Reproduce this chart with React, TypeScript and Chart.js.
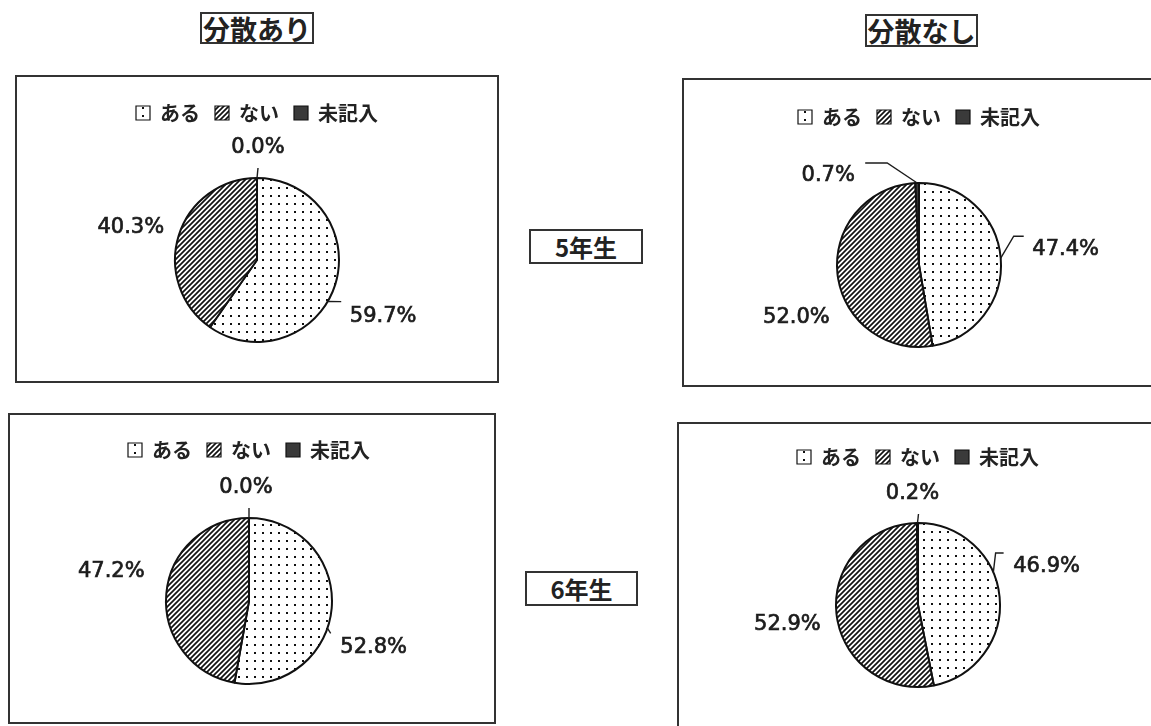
import React, { useEffect, useRef } from "react";
import { Chart, registerables } from "chart.js";

Chart.register(...registerables);

// ---- data ----
const CATEGORIES = ["ある", "ない", "未記入"];
const GRADE5_WITH = [59.7, 40.3, 0.0];
const GRADE5_WITHOUT = [47.4, 52.0, 0.7];
const GRADE6_WITH = [52.8, 47.2, 0.0];
const GRADE6_WITHOUT = [46.9, 52.9, 0.2];
const COLUMN_TITLES = ["分散あり", "分散なし"];
const ROW_TITLES = ["5年生", "6年生"];

// ---- layout / style ----
type LabelCfg = { dx: number; dy: number; t?: number; tail?: [number, number]; len?: number };
type Panel = {
  data: number[];
  box: { x: number; y: number; w: number; h: number };
  cx: number;
  cy: number;
  r: number;
  legendY: number;
  labels: LabelCfg[];
};

const PANELS: Panel[] = [
  {
    data: GRADE5_WITH,
    box: { x: 15, y: 75, w: 484, h: 308 },
    cx: 257, cy: 260, r: 82, legendY: 113,
    labels: [
      { dx: 48, dy: 32, t: 0.56, tail: [-42, -15], len: 0 },
      { dx: -48, dy: -8 },
      { dx: 1, dy: -30, tail: [0, 20], len: 0 },
    ],
  },
  {
    data: GRADE5_WITHOUT,
    box: { x: 682, y: 78, w: 480, h: 309 },
    cx: 919, cy: 265, r: 82, legendY: 117,
    labels: [
      { dx: 65, dy: -9, tail: [-42, -13], len: 10 },
      { dx: -41, dy: 44 },
      { dx: -89, dy: -7, tail: [37, -13], len: -22 },
    ],
  },
  {
    data: GRADE6_WITH,
    box: { x: 8, y: 413, w: 488, h: 311 },
    cx: 249, cy: 601, r: 83, legendY: 450,
    labels: [
      { dx: 42, dy: 39, t: 0.574, tail: [-43, -14], len: 0 },
      { dx: -55, dy: -22 },
      { dx: -3, dy: -30, tail: [3, 20], len: 0 },
    ],
  },
  {
    data: GRADE6_WITHOUT,
    box: { x: 677, y: 422, w: 480, h: 320 },
    cx: 918, cy: 605, r: 82, legendY: 457,
    labels: [
      { dx: 47, dy: -30, t: 0.395, tail: [-43, -14], len: 8 },
      { dx: -49, dy: 11 },
      { dx: -5, dy: -29, tail: [6, 20], len: 0 },
    ],
  },
];

const INK = "#1c1c1c";
const LEGEND_PAD = 15;
const LEGEND_FONT = 20;
const CANVAS_W = 380;
const LABEL_FONT = '21px "DejaVu Sans"';
const CJK = '"Noto Sans CJK JP", sans-serif';

function makeDots(): CanvasPattern {
  const c = document.createElement("canvas");
  c.width = 8;
  c.height = 8;
  const g = c.getContext("2d")!;
  g.fillStyle = "#fff";
  g.fillRect(0, 0, 8, 8);
  g.fillStyle = "#111";
  g.fillRect(3, 3, 2, 2);
  return g.createPattern(c, "repeat")!;
}

function makeHatch(): CanvasPattern {
  const s = 5;
  const c = document.createElement("canvas");
  c.width = s;
  c.height = s;
  const g = c.getContext("2d")!;
  g.fillStyle = "#fff";
  g.fillRect(0, 0, s, s);
  g.strokeStyle = "#111";
  g.lineWidth = 1.7;
  g.beginPath();
  g.moveTo(-1, s + 1);
  g.lineTo(s + 1, -1);
  g.moveTo(-1, 1);
  g.lineTo(1, -1);
  g.moveTo(s - 1, s + 1);
  g.lineTo(s + 1, s - 1);
  g.stroke();
  return g.createPattern(c, "repeat")!;
}

function makeLabelPlugin(cfg: LabelCfg[]) {
  return {
    id: "pctLabels",
    afterDatasetsDraw(chart: any) {
      const meta = chart.getDatasetMeta(0);
      const values = chart.data.datasets[0].data as number[];
      const ctx: CanvasRenderingContext2D = chart.ctx;
      ctx.save();
      ctx.font = LABEL_FONT;
      ctx.fillStyle = INK;
      ctx.strokeStyle = INK;
      ctx.textAlign = "center";
      ctx.textBaseline = "middle";
      meta.data.forEach((arc: any, i: number) => {
        const L = cfg[i];
        if (!L) return;
        const p = arc.getProps(["x", "y", "startAngle", "endAngle", "outerRadius"], true);
        const mid = (p.startAngle + p.endAngle) / 2;
        const ex = p.x + Math.cos(mid) * p.outerRadius;
        const ey = p.y + Math.sin(mid) * p.outerRadius;
        const tx = ex + L.dx;
        const ty = ey + L.dy;
        const txt = values[i].toFixed(1) + "%";
        ctx.fillText(txt, tx, ty);
        ctx.lineWidth = 0.7;
        ctx.strokeText(txt, tx, ty);
        if (L.tail) {
          const t = L.t ?? 0.5;
          const a = p.startAngle + (p.endAngle - p.startAngle) * t;
          const ax = p.x + Math.cos(a) * p.outerRadius;
          const ay = p.y + Math.sin(a) * p.outerRadius;
          const endX = tx + L.tail[0];
          const endY = ty + L.tail[1];
          const midX = endX - (L.len ?? 0);
          ctx.lineWidth = 1.4;
          ctx.beginPath();
          ctx.moveTo(ax, ay);
          ctx.lineTo(midX, endY);
          ctx.lineTo(endX, endY);
          ctx.stroke();
        }
      });
      ctx.restore();
    },
  };
}

function PiePanel({ panel }: { panel: Panel }) {
  const ref = useRef<HTMLCanvasElement>(null);
  const legendH = LEGEND_FONT + LEGEND_PAD + 10;
  const top = panel.legendY - (LEGEND_PAD + LEGEND_FONT / 2);
  const height = 2 * (panel.cy - top) - legendH;
  const left = panel.cx - CANVAS_W / 2;

  useEffect(() => {
    const canvas = ref.current!;
    const dots = makeDots();
    const hatch = makeHatch();
    const baseGen = (Chart as any).overrides.doughnut.plugins.legend.labels.generateLabels;
    const chart = new Chart(canvas, {
      type: "pie",
      data: {
        labels: CATEGORIES,
        datasets: [
          {
            data: panel.data,
            backgroundColor: [dots, hatch, "#3a3a3a"],
            borderColor: "#111",
            borderWidth: 2,
          },
        ],
      },
      options: {
        responsive: false,
        animation: false,
        radius: panel.r,
        layout: { padding: 0 },
        plugins: {
          legend: {
            display: true,
            position: "top",
            align: "center",
            labels: {
              font: { family: CJK, size: LEGEND_FONT, weight: "bold" },
              color: "#222",
              boxWidth: 14,
              boxHeight: 14,
              padding: LEGEND_PAD,
              generateLabels: (c: any) =>
                baseGen(c).map((l: any) => ({ ...l, lineWidth: 1.2, strokeStyle: "#111" })),
            },
          },
          tooltip: { enabled: false },
          title: { display: false },
        },
      } as any,
      plugins: [makeLabelPlugin(panel.labels)],
    });
    return () => chart.destroy();
  }, []);

  return (
    <canvas
      ref={ref}
      width={CANVAS_W}
      height={height}
      style={{ position: "absolute", left, top, width: CANVAS_W, height }}
    />
  );
}

function TagBox({ text, x, y, w, h, size }: { text: string; x: number; y: number; w: number; h: number; size: number }) {
  return (
    <div
      style={{
        position: "absolute",
        left: x,
        top: y,
        width: w,
        height: h,
        boxSizing: "border-box",
        border: "2px solid #333",
        display: "flex",
        alignItems: "center",
        justifyContent: "center",
        fontFamily: CJK,
        fontWeight: "bold",
        fontSize: size,
        color: "#222",
        lineHeight: 1,
        background: "#fff",
      }}
    >
      {text}
    </div>
  );
}

export default function App() {
  return (
    <div
      style={{
        position: "absolute",
        left: 0,
        top: 0,
        width: 1151,
        height: 726,
        background: "#fff",
        overflow: "hidden",
      }}
    >
      {PANELS.map((p, i) => (
        <div
          key={"b" + i}
          style={{
            position: "absolute",
            left: p.box.x,
            top: p.box.y,
            width: p.box.w,
            height: p.box.h,
            boxSizing: "border-box",
            border: "2px solid #333",
          }}
        />
      ))}
      <TagBox text={COLUMN_TITLES[0]} x={200} y={12} w={114} h={32} size={27} />
      <TagBox text={COLUMN_TITLES[1]} x={865} y={14} w={113} h={33} size={27} />
      <TagBox text={ROW_TITLES[0]} x={529} y={229} w={114} h={35} size={24} />
      <TagBox text={ROW_TITLES[1]} x={525} y={571} w={113} h={35} size={24} />
      {PANELS.map((p, i) => (
        <PiePanel key={"c" + i} panel={p} />
      ))}
    </div>
  );
}
